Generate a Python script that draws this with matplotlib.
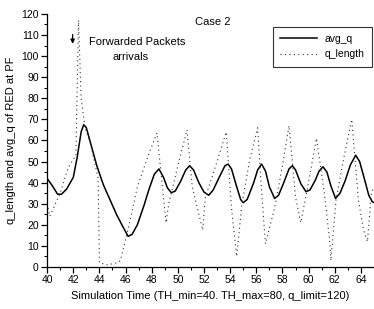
import matplotlib
matplotlib.use("Agg")
import matplotlib.pyplot as plt
from matplotlib.ticker import MultipleLocator

plt.rcParams['font.family'] = ['Liberation Sans', 'DejaVu Sans']

# avg_q (solid line)
avg_t = [40.0, 40.4, 40.8, 41.1, 41.5, 42.0, 42.3, 42.6, 42.8, 43.0, 43.4, 43.8, 44.3,
         44.8, 45.3, 45.8, 46.2, 46.5, 46.9, 47.4, 47.8, 48.2, 48.55, 48.9, 49.2, 49.5,
         49.8, 50.2, 50.6, 50.9, 51.2, 51.6, 52.0, 52.36, 52.7, 53.2, 53.6, 53.84, 54.1,
         54.5, 54.8, 55.0, 55.3, 55.8, 56.1, 56.4, 56.7, 57.0, 57.4, 57.7, 58.1, 58.5,
         58.76, 59.0, 59.4, 59.8, 60.1, 60.5, 60.8, 61.1, 61.4, 61.7, 62.06, 62.4, 62.8,
         63.2, 63.6, 63.9, 64.3, 64.6, 64.86, 65.0]
avg_v = [42, 38.5, 34.5, 34.5, 37, 42.5, 52, 64, 67.5, 66, 57, 48, 39,
         32, 25, 19, 14.5, 15.5, 20, 29, 37, 44, 46.5, 42.5, 37.5, 35.2,
         36, 40.5, 46, 48, 46, 40, 35.5, 34, 36.5, 43, 48, 48.8, 46.5,
         38, 32, 30.5, 32, 40, 46, 48.8, 45.5, 38, 32.5, 34, 40, 46.5,
         48, 46, 39.5, 35.7, 36.5, 41, 45.5, 47.5, 45, 38.5, 32.5, 35, 41,
         48.5, 53, 50, 41, 34, 31, 30.5]

# q_length (sparse dotted line)
q_t = [40.0, 40.2, 41.0, 41.6, 42.2, 42.4, 42.6, 42.9, 43.3, 43.9, 44.0, 44.6, 45.4,
       45.6, 46.2, 46.9, 47.8, 48.4, 48.9, 49.1, 49.3, 50.0, 50.7, 51.1, 51.9, 52.1,
       53.0, 53.7, 54.1, 54.5, 54.9, 55.5, 56.1, 56.4, 56.7, 57.4, 58.0, 58.5, 59.0,
       59.4, 59.9, 60.6, 61.2, 61.6, 61.7, 62.1, 62.7, 63.3, 63.8, 64.2, 64.5, 64.8, 65.0]
q_v = [30, 24, 35, 47, 53, 117, 80, 66, 59, 42, 2, 1, 2,
       3, 18, 38, 54, 63.5, 33, 21, 30, 48, 65, 38, 17.5, 33,
       50, 64, 28, 5, 30, 51, 66, 36, 11, 28, 48, 67, 33,
       21, 37, 61, 35, 13, 3, 32, 52, 70, 32, 17.5, 12, 35, 38]

fig = plt.figure(figsize=(3.74, 3.09), dpi=100)
ax = fig.add_axes([0.126, 0.136, 0.874, 0.819])

ax.plot(avg_t, avg_v, color='black', lw=1.1, label='avg_q')
ax.plot(q_t, q_v, color='#333333', lw=0.8, linestyle=(0, (1, 3)), label='q_length')

ax.set_xlim(40, 65)
ax.set_ylim(0, 120)
ax.xaxis.set_major_locator(MultipleLocator(2))
ax.xaxis.set_minor_locator(MultipleLocator(1))
ax.yaxis.set_major_locator(MultipleLocator(10))
ax.yaxis.set_minor_locator(MultipleLocator(5))
ax.tick_params(which='major', direction='out', length=4, width=0.9, labelsize=7.5, pad=2)
ax.tick_params(which='minor', direction='out', length=2, width=0.8)
for s in ['top', 'right']:
    ax.spines[s].set_visible(False)
for s in ['left', 'bottom']:
    ax.spines[s].set_linewidth(0.9)

ax.set_xlabel('Simulation Time (TH_min=40. TH_max=80, q_limit=120)', fontsize=8, labelpad=4)
ax.set_ylabel('q_length and avg_q of RED at PF', fontsize=8, labelpad=4)

ax.text(52.65, 116, 'Case 2', fontsize=8, ha='center', va='center')
ax.text(46.85, 106.8, 'Forwarded Packets', fontsize=8, ha='center', va='center')
ax.text(46.4, 99.8, 'arrivals', fontsize=8, ha='center', va='center')
ax.annotate('', xy=(41.95, 104.5), xytext=(41.95, 111.5),
            arrowprops=dict(arrowstyle='-|>', color='black', lw=0.9, mutation_scale=6))

leg = ax.legend(loc='upper right', bbox_to_anchor=(0.994, 0.949), fontsize=7.5,
                frameon=True, fancybox=False, edgecolor='black', handlelength=3.5,
                handletextpad=0.8, borderpad=0.7, labelspacing=0.5, borderaxespad=0)
leg.get_frame().set_linewidth(0.8)

fig.savefig('out.png', dpi=100)
